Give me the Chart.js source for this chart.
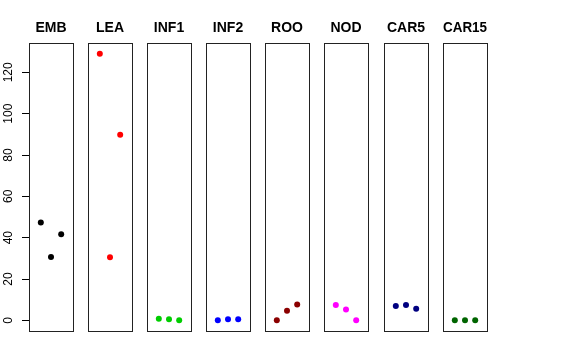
<!DOCTYPE html>
<html>
<head>
<meta charset="utf-8">
<script src="https://cdn.jsdelivr.net/npm/chart.js@4/dist/chart.umd.min.js"></script>
<style>
  html, body { margin: 0; padding: 0; background: #fff; }
  #wrap { position: relative; width: 576px; height: 360px; overflow: hidden; }
  #wrap canvas { position: absolute; top: 0; }
</style>
</head>
<body>
<div id="wrap"></div>
<script>
const CATEGORIES = ['EMB', 'LEA', 'INF1', 'INF2', 'ROO', 'NOD', 'CAR5', 'CAR15'];
const COLORS = ['#000000', '#FF0000', '#00CD00', '#0000FF', '#8B0000', '#FF00FF', '#000080', '#006400'];
const SAMPLE_X = [1, 2, 3];
const REP1 = [47.4, 129.0, 0.8, 0.0, 0.1, 7.4, 6.9, 0.1];
const REP2 = [30.6, 30.5, 0.5, 0.5, 4.6, 5.3, 7.4, 0.1];
const REP3 = [41.7, 89.8, 0.0, 0.5, 7.7, 0.0, 5.6, 0.1];
const Y_TICKS = [0, 20, 40, 60, 80, 100, 120];

const FONT = "'Liberation Sans', Arial, Helvetica, sans-serif";
const BOX_LEFT = [29, 88, 147, 206, 265, 324, 384, 443];
const BOX_W = 44;
const AXIS_W = 29;

// panel frame around the plot area
const framePlugin = {
  id: 'frame',
  afterDraw(chart) {
    const { ctx, chartArea: a } = chart;
    ctx.save();
    ctx.strokeStyle = '#222';
    ctx.lineWidth = 1;
    ctx.strokeRect(Math.round(a.left) + 0.5, Math.round(a.top) + 0.5,
      Math.round(a.right - a.left), Math.round(a.bottom - a.top));
    ctx.restore();
  }
};

// rotated y tick labels like R's default axis
const yLabelPlugin = {
  id: 'ylabels',
  afterDraw(chart) {
    const y = chart.scales.y;
    if (!y.options.display) return;
    const ctx = chart.ctx;
    ctx.save();
    ctx.fillStyle = '#000';
    ctx.font = '12px ' + FONT;
    ctx.textAlign = 'center';
    ctx.textBaseline = 'middle';
    y.ticks.forEach(t => {
      const py = y.getPixelForValue(t.value);
      ctx.save();
      ctx.translate(9, py);
      ctx.rotate(-Math.PI / 2);
      ctx.fillText(String(t.value), 0, 0);
      ctx.restore();
    });
    ctx.restore();
  }
};

const wrap = document.getElementById('wrap');

CATEGORIES.forEach((cat, i) => {
  const first = i === 0;
  const left = first ? 0 : BOX_LEFT[i] - 7;
  const width = first ? AXIS_W + BOX_W + 7 : BOX_W + 14;
  const canvas = document.createElement('canvas');
  canvas.width = width;
  canvas.height = 360;
  canvas.style.left = left + 'px';
  wrap.appendChild(canvas);

  const values = [REP1[i], REP2[i], REP3[i]];

  new Chart(canvas.getContext('2d'), {
    type: 'scatter',
    data: {
      datasets: [{
        label: cat,
        data: SAMPLE_X.map((x, j) => ({ x: x, y: values[j] })),
        backgroundColor: COLORS[i],
        borderColor: COLORS[i],
        pointRadius: 3,
        borderWidth: 0
      }]
    },
    options: {
      responsive: false,
      animation: false,
      devicePixelRatio: 1,
      layout: { padding: { left: first ? 0 : 7, right: 7, top: 0, bottom: 29 } },
      scales: {
        x: {
          type: 'linear',
          display: false,
          min: -0.16,
          max: 4.16
        },
        y: {
          type: 'linear',
          display: first,
          min: -5.16,
          max: 134.2,
          afterBuildTicks: s => { s.ticks = Y_TICKS.map(v => ({ value: v })); },
          afterFit: s => { if (first) s.width = AXIS_W; },
          border: { display: false },
          grid: {
            drawOnChartArea: false,
            drawTicks: true,
            tickLength: 7,
            color: '#000',
            lineWidth: 1
          },
          ticks: { display: false }
        }
      },
      plugins: {
        legend: { display: false },
        tooltip: { enabled: false },
        title: {
          display: true,
          text: cat,
          fullSize: false,
          color: '#000',
          font: { family: FONT, size: 14, weight: 'bold' },
          padding: { top: 20, bottom: 6.2 }
        }
      }
    },
    plugins: [framePlugin, yLabelPlugin]
  });
});
</script>
</body>
</html>
